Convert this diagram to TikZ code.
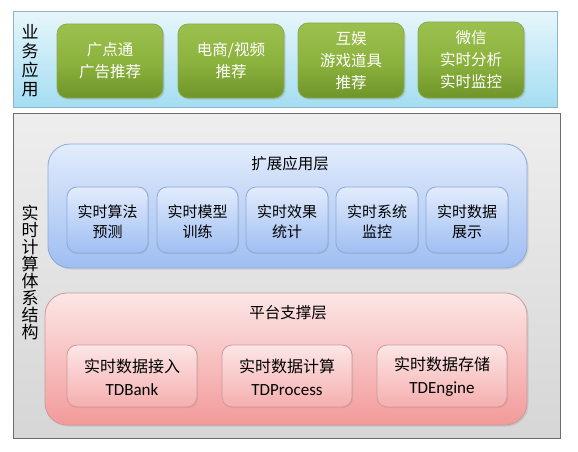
\documentclass[tikz,border=0pt]{standalone}
\usepackage{fontspec}
\setmainfont{Noto Sans CJK SC}
\newfontfamily\latinf{Carlito}
\usetikzlibrary{shadows}
\definecolor{grnT}{HTML}{9CC04E}
\definecolor{grnM}{HTML}{8DB33F}
\definecolor{grnB}{HTML}{6F9429}
\definecolor{bluT}{HTML}{E2ECFC}
\definecolor{bluB}{HTML}{9FBEF2}
\definecolor{bluD}{HTML}{8EA9D6}
\definecolor{pnkT}{HTML}{FCE6E6}
\definecolor{pnkB}{HTML}{F39A9A}
\definecolor{pnkD}{HTML}{CC9A9A}
\definecolor{cyT}{HTML}{E6F6FB}
\definecolor{cyB}{HTML}{A4DDF2}
\definecolor{cyD}{HTML}{8FB4C8}
\definecolor{gryT}{HTML}{EEEEEE}
\definecolor{gryB}{HTML}{D6D6D6}
\tikzset{
  outerbox/.style={draw=#1, line width=1pt},
  greenbox/.style={rounded corners=10pt, draw=grnB!80!white, line width=0.8pt,
    top color=grnT, bottom color=grnB, middle color=grnM,
    drop shadow={opacity=0.25, shadow xshift=1.5pt, shadow yshift=-1.5pt}},
  gtext/.style={text=white, font=\fontsize{15.5}{22}\selectfont, align=center},
  layerbox/.style={rounded corners=22pt, line width=0.8pt,
    drop shadow={opacity=0.2, shadow xshift=1.5pt, shadow yshift=-1.5pt}},
  bsub/.style={rounded corners=10pt, draw=bluD, line width=0.8pt,
    top color=bluT, bottom color=bluB,
    drop shadow={opacity=0.2, shadow xshift=1pt, shadow yshift=-1pt}},
  btext/.style={font=\fontsize{15}{20}\selectfont, align=center},
  psub/.style={rounded corners=10pt, draw=pnkD, line width=0.8pt,
    top color=pnkT, bottom color=pnkB!80!white,
    drop shadow={opacity=0.2, shadow xshift=1pt, shadow yshift=-1pt}},
  ptext/.style={font=\fontsize{16}{23}\selectfont, align=center},
  vlabel/.style={align=center, text width=18pt, inner sep=0pt},
  ttl/.style={font=\fontsize{15.5}{17}\selectfont, inner sep=0pt}
}
\newcommand{\tdname}[1]{{\latinf\fontsize{17}{23}\selectfont #1}}
\begin{document}
\begin{tikzpicture}[x=1pt,y=-1pt]
\useasboundingbox[fill=white] (0,0) rectangle (578,452);
% top band
\path[outerbox=cyD, top color=cyT, bottom color=cyB] (13,12) rectangle (557,107);
\node[vlabel, font=\fontsize{17}{19}\selectfont] (biz) at (30,61) {业\\务\\应\\用};
\path[greenbox] (57,24) rectangle (163,98);
\node[gtext] (g1) at (110,61) {广点通\\广告推荐};
\path[greenbox] (178,24) rectangle (284,98);
\node[gtext] (g2) at (231,61) {电商/视频\\推荐};
\path[greenbox] (298,23) rectangle (404,98);
\node[gtext] (g3) at (351,61) {互娱\\游戏道具\\推荐};
\path[greenbox] (418,22) rectangle (524,98);
\node[gtext] (g4) at (471,60) {微信\\实时分析\\实时监控};
% gray band
\path[outerbox=gray!85!black, top color=gryT, bottom color=gryB] (13,113) rectangle (560,438);
\node[vlabel, font=\fontsize{17}{17}\selectfont] (sys) at (30,272) {实\\时\\计\\算\\体\\系\\结\\构};
% blue layer
\path[layerbox, draw=bluD, top color=bluT, bottom color=bluB] (48,144) rectangle (527,268);
\node[ttl] (ext) at (290,164) {扩展应用层};
\path[bsub] (67,187) rectangle (148,253);
\node[btext] (b1) at (107.5,222) {实时算法\\预测};
\path[bsub] (157,187) rectangle (238,253);
\node[btext] (b2) at (197.5,222) {实时模型\\训练};
\path[bsub] (246,187) rectangle (328,253);
\node[btext] (b3) at (287,222) {实时效果\\统计};
\path[bsub] (336,187) rectangle (418,253);
\node[btext] (b4) at (377,222) {实时系统\\监控};
\path[bsub] (426,187) rectangle (508,253);
\node[btext] (b5) at (467,222) {实时数据\\展示};
% pink layer
\path[layerbox, draw=pnkD, top color=pnkT, bottom color=pnkB] (45,293) rectangle (527,425);
\node[ttl] (plat) at (288,313) {平台支撑层};
\path[psub] (67,345) rectangle (197,407);
\node[ptext] (p1) at (132,377) {实时数据接入\\\tdname{TDBank}};
\path[psub] (222,345) rectangle (352,407);
\node[ptext] (p2) at (287,377) {实时数据计算\\\tdname{TDProcess}};
\path[psub] (377,345) rectangle (507,407);
\node[ptext] (p3) at (442,377) {实时数据存储\\\tdname{TDEngine}};
\end{tikzpicture}
\end{document}
